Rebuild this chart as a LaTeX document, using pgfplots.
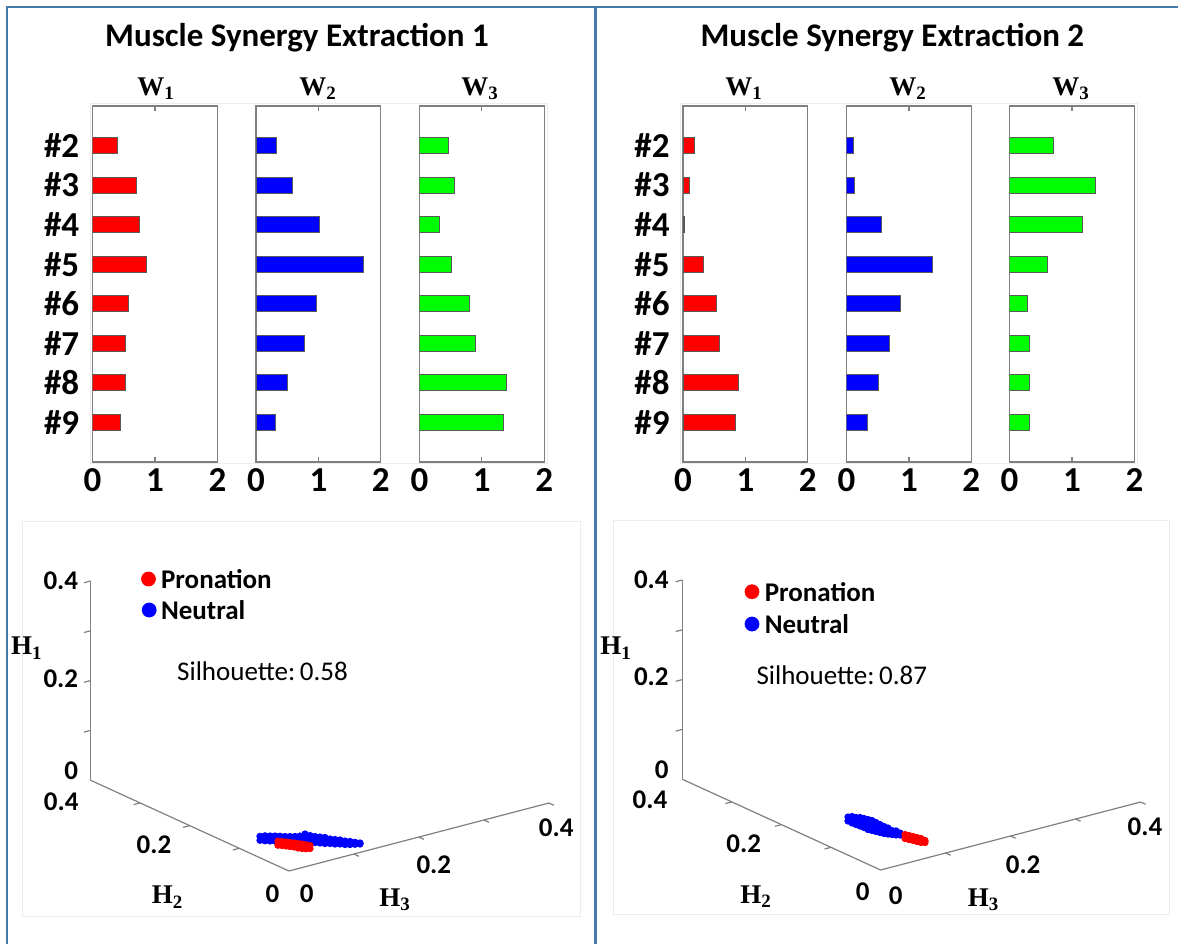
\documentclass[border=0pt]{standalone}
\usepackage{pgfplots}
\pgfplotsset{compat=1.18}
\usepackage{fontspec}
\setmainfont{Carlito}
\newfontfamily\serifbf{Liberation Serif}
\definecolor{frameblue}{RGB}{70,120,170}
\definecolor{axgray}{RGB}{128,128,128}
\definecolor{faint}{RGB}{236,236,236}
\definecolor{pgreen}{RGB}{0,255,0}

\pgfplotsset{
  baraxis/.style={
    scale only axis, width=62.4pt, height=178pt, anchor=north west,
    xmin=0, xmax=2, ymin=1, ymax=10, y dir=reverse,
    xtick={0,1,2}, xticklabels={0,1,2},
    ytick={2,3,4,5,6,7,8,9}, yticklabels={},
    axis line style={axgray, line width=0.6pt},
    xtick style={axgray, line width=0.6pt},
    ytick style={draw=none},
    tick align=inside, major tick length=2.5pt,
    xticklabel style={font=\fontsize{17.5}{17.5}\selectfont\bfseries, inner sep=0pt},
    yticklabel style={font=\fontsize{17.5}{17.5}\selectfont\bfseries, inner sep=0pt},
    xticklabel shift=3.2pt, yticklabel shift=6.5pt,
  },
  catlabels/.style={yticklabels={\#2,\#3,\#4,\#5,\#6,\#7,\#8,\#9}},
  bstyle/.style={xbar, bar width=8pt, draw=black!65, line width=0.4pt, fill=#1},
  scat/.style={only marks, mark=*, mark size=1.6pt, color=#1, mark options={draw=none, fill=#1}},
  ax3d/.style={hide axis, clip=false, anchor=origin,
    x={(325pt,85pt)}, y={(-248pt,113.5pt)}, z={(0pt,249pt)},
    xmin=0, xmax=0.4, ymin=0, ymax=0.4, zmin=0, zmax=0.4},
}
\newcommand{\Wlab}[1]{{\serifbf\bfseries\fontsize{13.5}{14}\selectfont W\textsubscript{#1}}}
\newcommand{\Hlab}[1]{{\serifbf\bfseries\fontsize{13.5}{14}\selectfont H\textsubscript{#1}}}

\begin{document}
\begin{tikzpicture}[x=0.5pt, y=-0.5pt]
\useasboundingbox (0,0) rectangle (1178,944);
% frame
\draw[frameblue, line width=1pt] (7,6.5) -- (1178,6.5);
\draw[frameblue, line width=1pt] (7,6) -- (7,944);
\draw[frameblue, line width=1.5pt] (595.8,6) -- (595.8,944);
% faint backgrounds
\draw[faint, line width=0.5pt] (90.3,103.3) rectangle (547.3,463.3);
\draw[faint, line width=0.5pt] (680,103) rectangle (1137.5,463);
\draw[faint, line width=0.5pt] (22,521) rectangle (580,916);
\draw[faint, line width=0.5pt] (613,520) rectangle (1169,914);

% titles
\node[anchor=base, font=\fontsize{16.5}{16.5}\selectfont\bfseries] at (297,46) {Muscle Synergy Extraction 1};
\node[anchor=base, font=\fontsize{16.5}{16.5}\selectfont\bfseries] at (892.4,46) {Muscle Synergy Extraction 2};

% W labels
\node[anchor=base] at (156,95) {\Wlab{1}};
\node[anchor=base] at (318,95) {\Wlab{2}};
\node[anchor=base] at (480,95) {\Wlab{3}};
\node[anchor=base] at (744,95) {\Wlab{1}};
\node[anchor=base] at (908,95) {\Wlab{2}};
\node[anchor=base] at (1071,95) {\Wlab{3}};

% ---------- Extraction 1 bars ----------
\begin{axis}[baraxis, catlabels, at={(46.3pt,-53pt)}]
\addplot[bstyle=red] coordinates {(0.40,2) (0.70,3) (0.75,4) (0.87,5) (0.57,6) (0.52,7) (0.52,8) (0.44,9)};
\end{axis}
\begin{axis}[baraxis, at={(128pt,-53pt)}]
\addplot[bstyle=blue] coordinates {(0.33,2) (0.58,3) (1.02,4) (1.72,5) (0.97,6) (0.77,7) (0.51,8) (0.31,9)};
\end{axis}
\begin{axis}[baraxis, at={(209.7pt,-53pt)}]
\addplot[bstyle=pgreen] coordinates {(0.47,2) (0.56,3) (0.32,4) (0.52,5) (0.80,6) (0.90,7) (1.40,8) (1.34,9)};
\end{axis}

% ---------- Extraction 2 bars ----------
\begin{axis}[baraxis, catlabels, at={(341.5pt,-53pt)}]
\addplot[bstyle=red] coordinates {(0.18,2) (0.10,3) (0.015,4) (0.32,5) (0.53,6) (0.58,7) (0.89,8) (0.84,9)};
\end{axis}
\begin{axis}[baraxis, at={(423.25pt,-53pt)}]
\addplot[bstyle=blue] coordinates {(0.11,2) (0.13,3) (0.56,4) (1.38,5) (0.86,6) (0.68,7) (0.51,8) (0.33,9)};
\end{axis}
\begin{axis}[baraxis, at={(504.8pt,-53pt)}]
\addplot[bstyle=pgreen] coordinates {(0.70,2) (1.38,3) (1.17,4) (0.61,5) (0.29,6) (0.31,7) (0.31,8) (0.31,9)};
\end{axis}

% ---------- 3D scatter 1 ----------
\begin{axis}[ax3d, at={(144.45pt,-435.5pt)}]
\draw[axgray, line width=0.6pt] (axis cs:0,0,0) -- (axis cs:0.4,0,0);
\draw[axgray, line width=0.6pt] (axis cs:0,0,0) -- (axis cs:0,0.4,0);
\draw[axgray, line width=0.6pt] (axis cs:0,0.4,0) -- (axis cs:0,0.4,0.4);
\draw[axgray, line width=0.6pt] (axis cs:0,0.4,0.1) -- (axis cs:-0.01,0.4,0.1);
\draw[axgray, line width=0.6pt] (axis cs:0,0.4,0.2) -- (axis cs:-0.01,0.4,0.2);
\draw[axgray, line width=0.6pt] (axis cs:0,0.4,0.3) -- (axis cs:-0.01,0.4,0.3);
\draw[axgray, line width=0.6pt] (axis cs:0,0.4,0.4) -- (axis cs:-0.01,0.4,0.4);
\draw[axgray, line width=0.6pt] (axis cs:0,0.1,0) -- (axis cs:-0.01,0.1,0);
\draw[axgray, line width=0.6pt] (axis cs:0,0.2,0) -- (axis cs:-0.01,0.2,0);
\draw[axgray, line width=0.6pt] (axis cs:0,0.3,0) -- (axis cs:-0.01,0.3,0);
\draw[axgray, line width=0.6pt] (axis cs:0.1,0,0) -- (axis cs:0.1,-0.01,0);
\draw[axgray, line width=0.6pt] (axis cs:0.2,0,0) -- (axis cs:0.2,-0.01,0);
\draw[axgray, line width=0.6pt] (axis cs:0.3,0,0) -- (axis cs:0.3,-0.01,0);
\draw[axgray, line width=0.6pt] (axis cs:0.4,0,0) -- (axis cs:0.4,-0.01,0);
\addplot3[scat=blue] coordinates {
(0.0310,0.0989,0.006) (0.0310,0.0989,0.014)
(0.0335,0.0970,0.010)
(0.0359,0.0952,0.005) (0.0359,0.0952,0.015)
(0.0404,0.0910,0.005) (0.0404,0.0910,0.015)
(0.0453,0.0873,0.005) (0.0453,0.0873,0.015)
(0.0497,0.0831,0.005) (0.0497,0.0831,0.015)
(0.0540,0.0786,0.005) (0.0540,0.0786,0.015)
(0.0589,0.0749,0.005) (0.0589,0.0749,0.015)
(0.0638,0.0713,0.005) (0.0638,0.0713,0.015)
(0.0697,0.0690,0.005) (0.0697,0.0690,0.015)
(0.0768,0.0681,0.005) (0.0768,0.0681,0.017)
(0.0806,0.0631,0.005) (0.0806,0.0631,0.015)
(0.0823,0.0552,0.004) (0.0823,0.0552,0.010) (0.0823,0.0552,0.016)
(0.0861,0.0501,0.004) (0.0861,0.0501,0.010) (0.0861,0.0501,0.016)
(0.0899,0.0451,0.004) (0.0899,0.0451,0.010) (0.0899,0.0451,0.016)
(0.0938,0.0400,0.005) (0.0938,0.0400,0.014)
(0.0976,0.0349,0.005) (0.0976,0.0349,0.014)
(0.1014,0.0299,0.006) (0.1014,0.0299,0.014)
(0.1052,0.0248,0.006) (0.1052,0.0248,0.013)
(0.1091,0.0197,0.007) (0.1091,0.0197,0.013)
(0.1133,0.0152,0.008) (0.1133,0.0152,0.012)
(0.1178,0.0110,0.009) (0.1178,0.0110,0.011)
};
\addplot3[scat=red] coordinates {
(0.0381,0.0720,0.006) (0.0381,0.0720,0.014)
(0.0414,0.0682,0.006) (0.0414,0.0682,0.014)
(0.0443,0.0639,0.006) (0.0443,0.0639,0.014)
(0.0471,0.0595,0.006) (0.0471,0.0595,0.014)
(0.0500,0.0552,0.006) (0.0500,0.0552,0.014)
(0.0528,0.0509,0.005) (0.0528,0.0509,0.014)
(0.0556,0.0465,0.005) (0.0556,0.0465,0.014)
(0.0589,0.0427,0.005) (0.0589,0.0427,0.013)
(0.0624,0.0392,0.006) (0.0624,0.0392,0.012)
};
\end{axis}

% ---------- 3D scatter 2 ----------
\begin{axis}[ax3d, at={(440.3pt,-435pt)}]
\draw[axgray, line width=0.6pt] (axis cs:0,0,0) -- (axis cs:0.4,0,0);
\draw[axgray, line width=0.6pt] (axis cs:0,0,0) -- (axis cs:0,0.4,0);
\draw[axgray, line width=0.6pt] (axis cs:0,0.4,0) -- (axis cs:0,0.4,0.4);
\draw[axgray, line width=0.6pt] (axis cs:0,0.4,0.1) -- (axis cs:-0.01,0.4,0.1);
\draw[axgray, line width=0.6pt] (axis cs:0,0.4,0.2) -- (axis cs:-0.01,0.4,0.2);
\draw[axgray, line width=0.6pt] (axis cs:0,0.4,0.3) -- (axis cs:-0.01,0.4,0.3);
\draw[axgray, line width=0.6pt] (axis cs:0,0.4,0.4) -- (axis cs:-0.01,0.4,0.4);
\draw[axgray, line width=0.6pt] (axis cs:0,0.1,0) -- (axis cs:-0.01,0.1,0);
\draw[axgray, line width=0.6pt] (axis cs:0,0.2,0) -- (axis cs:-0.01,0.2,0);
\draw[axgray, line width=0.6pt] (axis cs:0,0.3,0) -- (axis cs:-0.01,0.3,0);
\draw[axgray, line width=0.6pt] (axis cs:0.1,0,0) -- (axis cs:0.1,-0.01,0);
\draw[axgray, line width=0.6pt] (axis cs:0.2,0,0) -- (axis cs:0.2,-0.01,0);
\draw[axgray, line width=0.6pt] (axis cs:0.3,0,0) -- (axis cs:0.3,-0.01,0);
\draw[axgray, line width=0.6pt] (axis cs:0.4,0,0) -- (axis cs:0.4,-0.01,0);
\addplot3[scat=blue] coordinates {
(0.0665,0.1529,0.006) (0.0665,0.1529,0.014)
(0.0683,0.1472,0.004) (0.0683,0.1472,0.011) (0.0683,0.1472,0.017)
(0.0701,0.1414,0.003) (0.0701,0.1414,0.010) (0.0701,0.1414,0.017)
(0.0719,0.1357,0.002) (0.0719,0.1357,0.008) (0.0719,0.1357,0.013) (0.0719,0.1357,0.019)
(0.0736,0.1300,0.001) (0.0736,0.1300,0.007) (0.0736,0.1300,0.013) (0.0736,0.1300,0.019)
(0.0743,0.1228,0.000) (0.0743,0.1228,0.007) (0.0743,0.1228,0.013) (0.0743,0.1228,0.020)
(0.0761,0.1171,0.000) (0.0761,0.1171,0.007) (0.0761,0.1171,0.013) (0.0761,0.1171,0.020)
(0.0768,0.1099,0.001) (0.0768,0.1099,0.007) (0.0768,0.1099,0.013) (0.0768,0.1099,0.019)
(0.0775,0.1028,0.002) (0.0775,0.1028,0.008) (0.0775,0.1028,0.013) (0.0775,0.1028,0.018)
(0.0782,0.0957,0.003) (0.0782,0.0957,0.010) (0.0782,0.0957,0.017)
(0.0800,0.0899,0.004) (0.0800,0.0899,0.010) (0.0800,0.0899,0.016)
(0.0818,0.0842,0.005) (0.0818,0.0842,0.013)
(0.0836,0.0785,0.006) (0.0836,0.0785,0.014)
(0.0853,0.0727,0.008) (0.0853,0.0727,0.012)
};
\addplot3[scat=red] coordinates {
(0.0849,0.0621,0.006) (0.0849,0.0621,0.014)
(0.0867,0.0563,0.006) (0.0867,0.0563,0.014)
(0.0885,0.0506,0.006) (0.0885,0.0506,0.014)
(0.0902,0.0449,0.006) (0.0902,0.0449,0.014)
(0.0920,0.0391,0.006) (0.0920,0.0391,0.014)
(0.0938,0.0334,0.008) (0.0938,0.0334,0.012)
};
\end{axis}

% ---------- 3D labels ----------
\begin{scope}[every node/.style={font=\fontsize{13.5}{14}\selectfont\bfseries, inner sep=0pt}]
\node[anchor=east] at (78.5,580.7) {0.4};
\node[anchor=east] at (78.5,678.3) {0.2};
\node[anchor=east] at (78.5,770.7) {0};
\node at (61.2,801.7) {0.4};
\node at (154,845) {0.2};
\node at (272.5,893.3) {0};
\node at (306.7,893.3) {0};
\node at (433.8,865) {0.2};
\node at (556.2,827.5) {0.4};
\node[anchor=east] at (669,580) {0.4};
\node[anchor=east] at (669,676.7) {0.2};
\node[anchor=east] at (669,770) {0};
\node at (650,800) {0.4};
\node at (743.7,844) {0.2};
\node at (862.6,891.7) {0};
\node at (895.6,896) {0};
\node at (1023.1,865) {0.2};
\node at (1145,826.7) {0.4};
\end{scope}
\node at (26.8,648) {\Hlab{1}};
\node at (167.5,897) {\Hlab{2}};
\node at (395,900) {\Hlab{3}};
\node at (616.2,648.3) {\Hlab{1}};
\node at (756.1,896.7) {\Hlab{2}};
\node at (983.7,900) {\Hlab{3}};

% legends
\fill[red] (148.5,579) circle[radius=3.7pt];
\fill[blue] (149.2,610) circle[radius=3.7pt];
\node[anchor=west, inner sep=0pt, font=\fontsize{13.5}{14}\selectfont\bfseries] at (160.7,579) {Pronation};
\node[anchor=west, inner sep=0pt, font=\fontsize{13.5}{14}\selectfont\bfseries] at (160.7,610) {Neutral};
\node[anchor=west, inner sep=0pt, font=\fontsize{13.5}{14}\selectfont] at (176.8,671.7) {Silhouette:\,0.58};
\fill[red] (752,591.7) circle[radius=3.7pt];
\fill[blue] (752,624) circle[radius=3.7pt];
\node[anchor=west, inner sep=0pt, font=\fontsize{13.5}{14}\selectfont\bfseries] at (764.4,591.7) {Pronation};
\node[anchor=west, inner sep=0pt, font=\fontsize{13.5}{14}\selectfont\bfseries] at (764.4,624) {Neutral};
\node[anchor=west, inner sep=0pt, font=\fontsize{13.5}{14}\selectfont] at (756.1,675.7) {Silhouette:\,0.87};
\end{tikzpicture}
\end{document}
